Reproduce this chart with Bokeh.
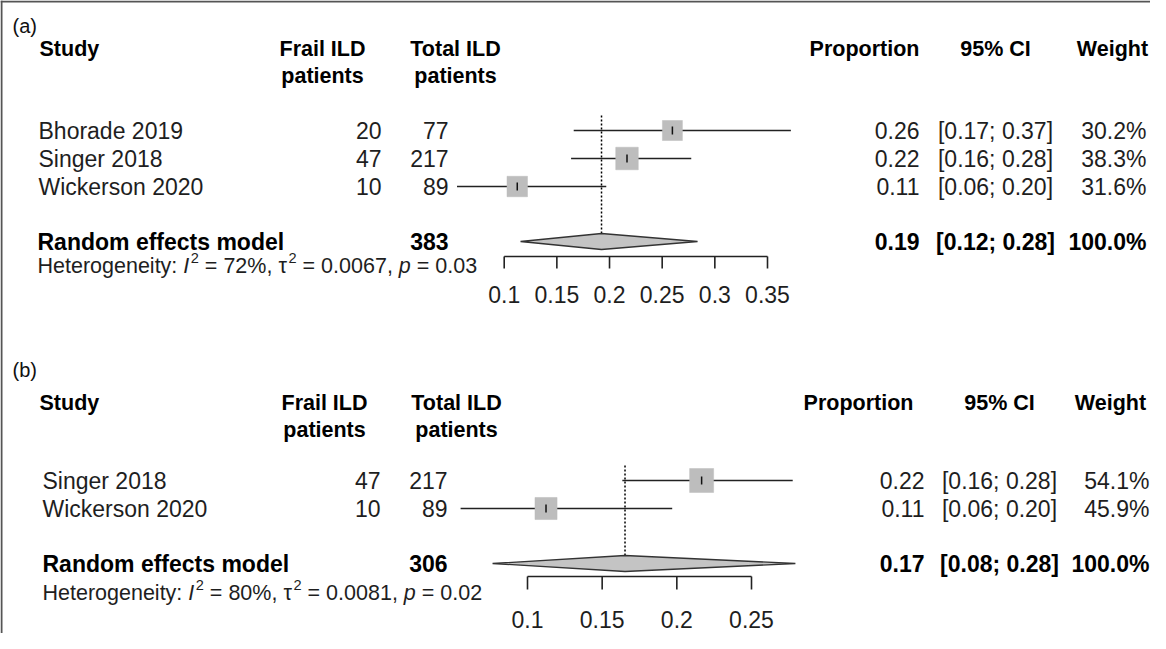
import math
from bokeh.plotting import figure
from bokeh.models import Range1d
from bokeh.core.properties import value
from bokeh.embed import file_html
from bokeh.resources import INLINE

# ------------------------------------------------------------------ data
headers_line1 = ["Study", "Frail ILD", "Total ILD", "Proportion", "95% CI", "Weight"]
headers_line2 = ["patients", "patients"]
pooled_name = "Random effects model"
panel_tags = ["(a)", "(b)"]

# panel (a)
a_studies = ["Bhorade 2019", "Singer 2018", "Wickerson 2020"]
a_frail = [20, 47, 10]
a_total = [77, 217, 89]
a_prop = [0.2597, 0.2166, 0.1124]
a_lower = [0.1660, 0.1635, 0.0552]
a_upper = [0.3722, 0.2776, 0.1969]
a_prop_labels = ["0.26", "0.22", "0.11"]
a_ci_labels = ["[0.17; 0.37]", "[0.16; 0.28]", "[0.06; 0.20]"]
a_weights = [30.2, 38.3, 31.6]
a_weight_labels = ["30.2%", "38.3%", "31.6%"]
a_pooled = [0.1924, 0.1155, 0.2836]          # estimate, lower, upper
a_pooled_total = 383
a_pooled_labels = ["0.19", "[0.12; 0.28]", "100.0%"]
a_het = ["72%", "0.0067", "0.03"]             # I^2, tau^2, p
a_ticks = [0.1, 0.15, 0.2, 0.25, 0.3, 0.35]
a_tick_labels = ["0.1", "0.15", "0.2", "0.25", "0.3", "0.35"]

# panel (b)
b_studies = ["Singer 2018", "Wickerson 2020"]
b_frail = [47, 10]
b_total = [217, 89]
b_prop = [0.2166, 0.1124]
b_lower = [0.1635, 0.0552]
b_upper = [0.2776, 0.1969]
b_prop_labels = ["0.22", "0.11"]
b_ci_labels = ["[0.16; 0.28]", "[0.06; 0.20]"]
b_weights = [54.1, 45.9]
b_weight_labels = ["54.1%", "45.9%"]
b_pooled = [0.1653, 0.0766, 0.2794]
b_pooled_total = 306
b_pooled_labels = ["0.17", "[0.08; 0.28]", "100.0%"]
b_het = ["80%", "0.0081", "0.02"]
b_ticks = [0.1, 0.15, 0.2, 0.25]
b_tick_labels = ["0.1", "0.15", "0.2", "0.25"]

# ------------------------------------------------------------------ layout / style
FONT = "Liberation Sans"
W, H = 1150, 633
X0, Y0 = 8, 8            # page offset of the figure
BODY = 23
HEAD = 21.5
HET = 21.5
TXT = "#1e1e1e"
SQ = "#bdbdbd"
NB = "\u00a0"

LA = dict(tag_y=33, h1=56, h2=83, row0=138, step=28, re_y=249, het_y=273,
          axis_y=264, tick_len=12, ticklab_y=302, dot_top=123, dot_bot=241,
          tag_x=20, study_x=46, head_x=47, frail_r=389, frail_c=330,
          total_r=456, total_c=463, prop_r=927, prop_c=872, ci_c=1003,
          w_r=1154, w_c=1120, re_x=45, het_x=45,
          ax_px=(511.7, 775.0), sq_k=3.64, dia_h=8)
LB = dict(tag_y=377, h1=410, h2=437, row0=488, step=28, re_y=571, het_y=600,
          axis_y=584, tick_len=13, ticklab_y=627, dot_top=473, dot_bot=563,
          tag_x=20, study_x=50, head_x=47, frail_r=388, frail_c=332,
          total_r=455, total_c=464, prop_r=932, prop_c=866, ci_c=1007,
          w_r=1157, w_c=1118, re_x=50, het_x=50,
          ax_px=(535.0, 759.0), sq_k=3.26, dia_h=8)


def prop_range(ticks, ax_px):
    k = (ax_px[1] - ax_px[0]) / (ticks[-1] - ticks[0])
    start = ticks[0] - (ax_px[0] - X0) / k
    end = ticks[0] + (X0 + W - ax_px[0]) / k
    return Range1d(start, end)


p = figure(width=W, height=H, output_backend="svg", toolbar_location=None,
           x_range=Range1d(X0, X0 + W), y_range=Range1d(Y0 + H, Y0),
           x_axis_location=None, y_axis_location=None,
           min_border=0, min_border_left=0, min_border_right=0,
           min_border_top=0, min_border_bottom=0)
p.extra_x_ranges = {"a": prop_range(a_ticks, LA["ax_px"]),
                    "b": prop_range(b_ticks, LB["ax_px"])}
p.xgrid.visible = False
p.ygrid.visible = False
p.outline_line_color = None
p.background_fill_color = "white"
p.border_fill_color = "white"


def txt(x, y, s, size=BODY, align="left", style="normal", color=TXT):
    p.text(x=[x], y=[y], text=[s], text_font=value(FONT),
           text_font_size=value(f"{size}px"), text_font_style=style,
           text_align=align, text_baseline="middle", text_color=color)


# Arial / Liberation Sans advance widths (1/1000 em)
AW = {'H': 722, 'e': 556, 't': 278, 'r': 333, 'o': 556, 'g': 556, 'n': 556,
      'i': 222, 'y': 500, ':': 278, ' ': 278, NB: 278, 'I': 278, '=': 584,
      '%': 889, ',': 278, '.': 278, 'p': 556, 'τ': 470}


def width(s, size):
    return sum(AW.get(c, 556) for c in s) * size / 1000.0


def het_line(x, y, het):
    i2, tau2, pv = het
    sup = HET * 0.68
    pieces = [("Heterogeneity:", "normal", HET, 0),
              (NB, None, HET, 0),
              ("I", "italic", HET, 0),
              ("2", "normal", sup, -8),
              (NB + "=" + NB + i2 + "," + NB, "normal", HET, 0),
              ("τ", "normal", HET, 0),
              ("2", "normal", sup, -8),
              (NB + "=" + NB + tau2 + "," + NB, "normal", HET, 0),
              ("p", "italic", HET, 0),
              (NB + "=" + NB + pv, "normal", HET, 0)]
    cx = x
    for s, st, sz, dy in pieces:
        if st is not None:
            txt(cx, y + dy, s, size=sz, style=st)
        cx += width(s, sz) + (1.5 if s == "I" else 0)


def panel(tag, L, rng, studies, frail, total, prop, lower, upper, prop_lab,
          ci_lab, weights, w_lab, pooled, pooled_total, pooled_lab, het,
          ticks, tick_labels):
    # titles & headers
    txt(L["tag_x"], L["tag_y"], tag, size=20, color="#111")
    txt(L["head_x"], L["h1"], headers_line1[0], size=HEAD, style="bold", color="black")
    txt(L["frail_c"], L["h1"], headers_line1[1], size=HEAD, align="center", style="bold", color="black")
    txt(L["frail_c"], L["h2"], headers_line2[0], size=HEAD, align="center", style="bold", color="black")
    txt(L["total_c"], L["h1"], headers_line1[2], size=HEAD, align="center", style="bold", color="black")
    txt(L["total_c"], L["h2"], headers_line2[1], size=HEAD, align="center", style="bold", color="black")
    txt(L["prop_c"], L["h1"], headers_line1[3], size=HEAD, align="center", style="bold", color="black")
    txt(L["ci_c"], L["h1"], headers_line1[4], size=HEAD, align="center", style="bold", color="black")
    txt(L["w_c"], L["h1"], headers_line1[5], size=HEAD, align="center", style="bold", color="black")

    rows = [L["row0"] + i * L["step"] for i in range(len(studies))]
    for i, y in enumerate(rows):
        txt(L["study_x"], y, studies[i])
        txt(L["frail_r"], y, str(frail[i]), align="right")
        txt(L["total_r"], y, str(total[i]), align="right")
        txt(L["prop_r"], y, prop_lab[i], align="right")
        txt(L["ci_c"], y, ci_lab[i], align="center")
        txt(L["w_r"], y, w_lab[i], align="right")

    # pooled row
    ry = L["re_y"]
    txt(L["re_x"], ry, pooled_name, style="bold", color="black")
    txt(L["total_r"], ry, str(pooled_total), align="right", style="bold", color="black")
    txt(L["prop_r"], ry, pooled_lab[0], align="right", style="bold", color="black")
    txt(L["ci_c"], ry, pooled_lab[1], align="center", style="bold", color="black")
    txt(L["w_r"], ry, pooled_lab[2], align="right", style="bold", color="black")
    het_line(L["het_x"], L["het_y"], het)

    # forest marks
    p.segment(x0=[pooled[0]], x1=[pooled[0]], y0=[L["dot_top"]], y1=[L["dot_bot"]],
              x_range_name=rng, line_color="black", line_width=1.5, line_dash="2 2")
    p.segment(x0=lower, x1=upper, y0=rows, y1=rows, x_range_name=rng,
              line_color="#222222", line_width=1.6)
    sizes = [L["sq_k"] * math.sqrt(w) for w in weights]
    p.scatter(x=prop, y=rows, size=sizes, marker="square", x_range_name=rng,
              fill_color=SQ, line_color=SQ, line_width=0.5)
    p.segment(x0=prop, x1=prop, y0=[y - 4 for y in rows], y1=[y + 4 for y in rows],
              x_range_name=rng, line_color="#111111", line_width=1.5)
    dh = L["dia_h"]
    p.patch(x=[pooled[1], pooled[0], pooled[2], pooled[0]],
            y=[ry, ry - dh, ry, ry + dh], x_range_name=rng,
            fill_color="#c4c4c4", line_color="#333333", line_width=1.3)

    # axis
    ay = L["axis_y"]
    p.segment(x0=[ticks[0]], x1=[ticks[-1]], y0=[ay], y1=[ay], x_range_name=rng,
              line_color="#222222", line_width=1.6)
    p.segment(x0=ticks, x1=ticks, y0=[ay] * len(ticks), y1=[ay + L["tick_len"]] * len(ticks),
              x_range_name=rng, line_color="#222222", line_width=1.6)
    p.text(x=ticks, y=[L["ticklab_y"]] * len(ticks), text=tick_labels, x_range_name=rng,
           text_font=value(FONT), text_font_size=value(f"{BODY}px"),
           text_align="center", text_baseline="middle", text_color=TXT)


panel(panel_tags[0], LA, "a", a_studies, a_frail, a_total, a_prop, a_lower, a_upper,
      a_prop_labels, a_ci_labels, a_weights, a_weight_labels, a_pooled,
      a_pooled_total, a_pooled_labels, a_het, a_ticks, a_tick_labels)
panel(panel_tags[1], LB, "b", b_studies, b_frail, b_total, b_prop, b_lower, b_upper,
      b_prop_labels, b_ci_labels, b_weights, b_weight_labels, b_pooled,
      b_pooled_total, b_pooled_labels, b_het, b_ticks, b_tick_labels)

# frame lines (top and left)
p.segment(x0=[X0], x1=[X0 + W], y0=[Y0 + 1], y1=[Y0 + 1], line_color="#555555", line_width=2)
p.segment(x0=[X0 + 1], x1=[X0 + 1], y0=[Y0], y1=[Y0 + H], line_color="#555555", line_width=2)

open("out.html", "w").write(file_html(p, INLINE))
